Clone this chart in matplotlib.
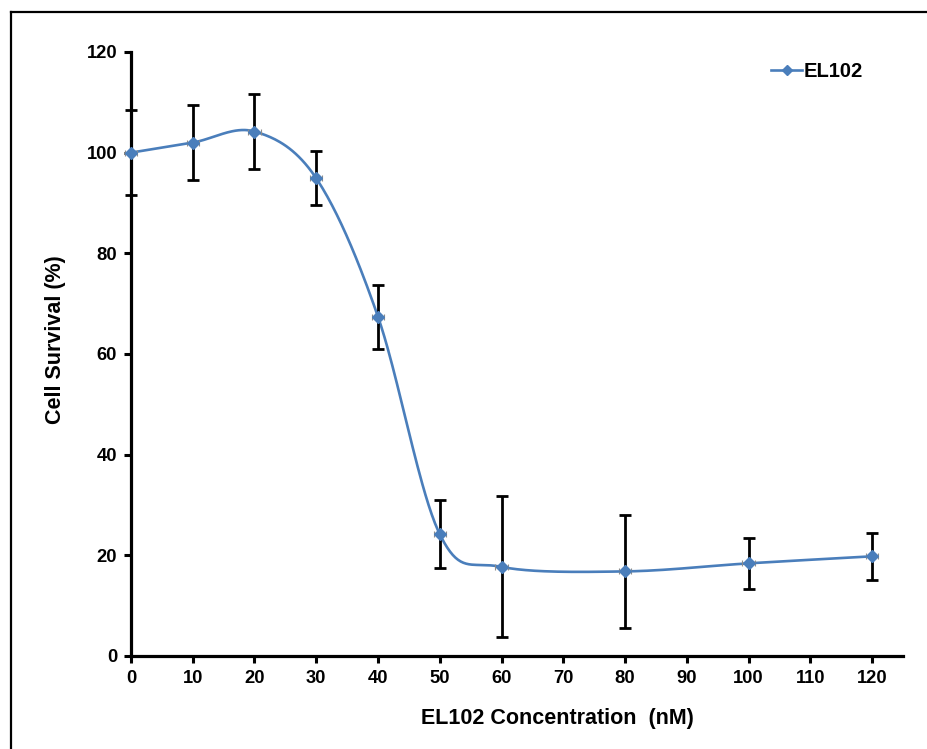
import numpy as np
import matplotlib
matplotlib.use("Agg")
import matplotlib.pyplot as plt
from matplotlib.lines import Line2D

# Dose-response data for EL102
conc = [0, 10, 20, 30, 40, 50, 60, 80, 100, 120]
survival = [100.0, 102.0, 104.2, 94.9, 67.4, 24.2, 17.7, 16.8, 18.4, 19.8]
survival_err = [8.5, 7.5, 7.5, 5.4, 6.4, 6.7, 14.0, 11.3, 5.1, 4.7]
conc_err = [1, 1, 1, 1, 1, 1, 1, 1, 1, 1]

plt.rcParams["font.family"] = ["Liberation Sans", "DejaVu Sans"]
plt.rcParams["font.weight"] = "bold"

blue = "#4A7EBB"


def smooth_curve(x, y, n=40):
    # Bezier segments through every point, like a spreadsheet "smoothed line"
    pts = np.column_stack([x, y]).astype(float)
    out = []
    for i in range(len(pts) - 1):
        p0 = pts[i - 1] if i > 0 else pts[i]
        p1 = pts[i]
        p2 = pts[i + 1]
        p3 = pts[i + 2] if i + 2 < len(pts) else pts[i + 1]
        c1 = p1 + (p2 - p0) / 6.0
        c2 = p2 - (p3 - p1) / 6.0
        t = np.linspace(0, 1, n)[:, None]
        seg = ((1 - t) ** 3) * p1 + 3 * ((1 - t) ** 2) * t * c1 + 3 * (1 - t) * t ** 2 * c2 + t ** 3 * p2
        out.append(seg if i == 0 else seg[1:])
    out = np.vstack(out)
    return out[:, 0], out[:, 1]


fig = plt.figure(figsize=(9.27, 7.49), dpi=100)
ax = fig.add_axes([0.1413, 0.1242, 0.8327, 0.8064])

sx, sy = smooth_curve(conc, survival)
ax.plot(sx, sy, color=blue, lw=1.9, zorder=2, clip_on=False)

# horizontal (concentration) error bars, grey and tiny
ax.errorbar(conc, survival, xerr=conc_err, fmt="none", ecolor="#8c8c8c",
            elinewidth=0.8, capsize=2.5, capthick=0.8, zorder=3, clip_on=False)
# survival error bars
ax.errorbar(conc, survival, yerr=survival_err, fmt="none", ecolor="black",
            elinewidth=2.0, capsize=4.5, capthick=2.0, zorder=4, clip_on=False)
ax.plot(conc, survival, ls="none", marker="D", ms=6.5, color=blue,
        zorder=5, clip_on=False)

# legend entry
handle = Line2D([], [], color=blue, lw=1.9, marker="D", ms=5)
ax.legend([handle], ["EL102"], loc="center left", bbox_to_anchor=(0.821, 0.904),
          bbox_transform=fig.transFigure, frameon=False, handlelength=1.55,
          handletextpad=0.05, borderpad=0, prop={"weight": "bold", "size": 14.5})

ax.set_xlim(0, 125)
ax.set_ylim(0, 120)
ax.set_xticks(range(0, 121, 10))
ax.set_yticks(range(0, 121, 20))

for side in ["top", "right"]:
    ax.spines[side].set_visible(False)
for side in ["left", "bottom"]:
    ax.spines[side].set_linewidth(2.3)

ax.tick_params(direction="out", length=5, width=2.2, labelsize=13.2, pad=5)
for lab in ax.get_xticklabels() + ax.get_yticklabels():
    lab.set_fontweight("bold")

ax.set_xlabel("EL102 Concentration  (nM)", fontsize=15.5, fontweight="bold", va="center")
ax.xaxis.set_label_coords(0.552, -0.103)
ax.set_ylabel("Cell Survival (%)", fontsize=15.5, fontweight="bold", va="center")
ax.yaxis.set_label_coords(-0.0984, 0.523)

# outer frame (cropped on the right and bottom)
fig.add_artist(Line2D([11 / 927, 1.0], [1 - 12 / 749, 1 - 12 / 749],
                      transform=fig.transFigure, color="black", lw=1.6))
fig.add_artist(Line2D([11 / 927, 11 / 927], [1 - 12 / 749, 0.0],
                      transform=fig.transFigure, color="black", lw=1.6))

fig.savefig("out.png", dpi=100)
